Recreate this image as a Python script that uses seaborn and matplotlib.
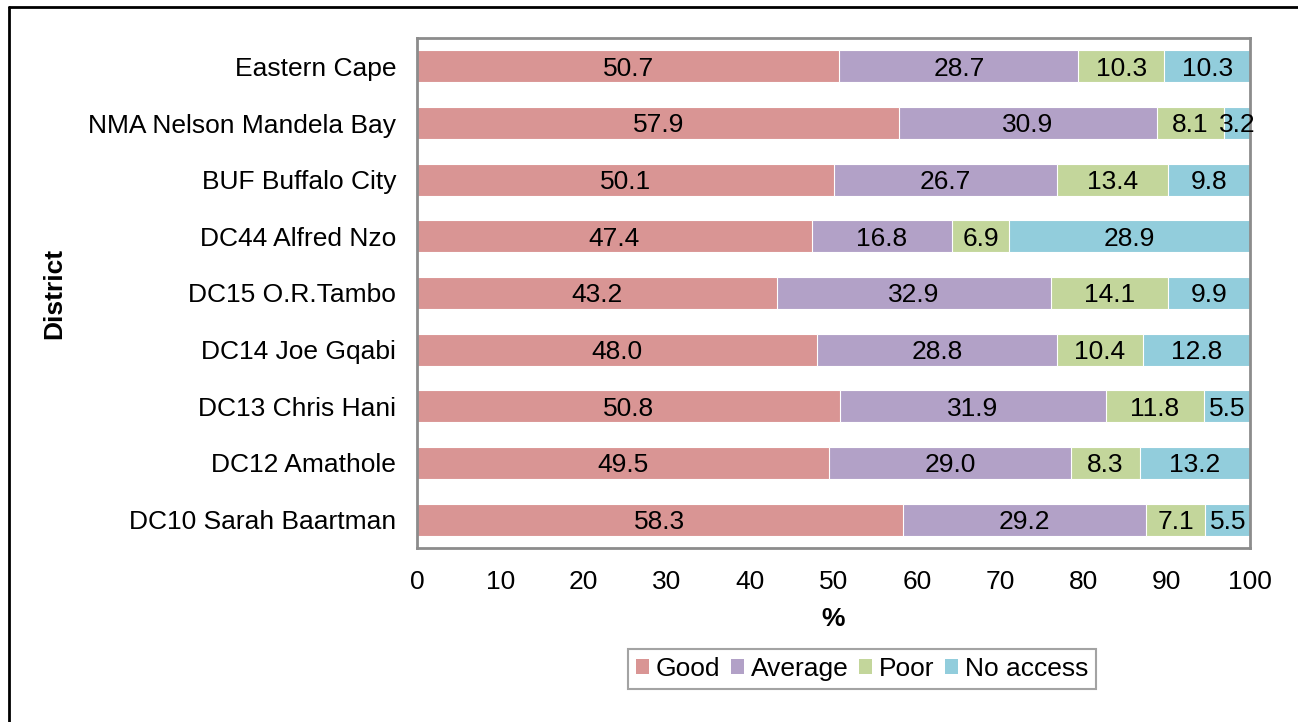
import numpy as np
import pandas as pd
import matplotlib
matplotlib.use("Agg")
import matplotlib.pyplot as plt
import seaborn as sns
from matplotlib.lines import Line2D
from matplotlib.patches import Patch

# dados
districts = ["Eastern Cape", "NMA Nelson Mandela Bay", "BUF Buffalo City",
             "DC44 Alfred Nzo", "DC15 O.R.Tambo", "DC14 Joe Gqabi",
             "DC13 Chris Hani", "DC12 Amathole", "DC10 Sarah Baartman"]
good = [50.7, 57.9, 50.1, 47.4, 43.2, 48.0, 50.8, 49.5, 58.3]
average = [28.7, 30.9, 26.7, 16.8, 32.9, 28.8, 31.9, 29.0, 29.2]
poor = [10.3, 8.1, 13.4, 6.9, 14.1, 10.4, 11.8, 8.3, 7.1]
no_access = [10.3, 3.2, 9.8, 28.9, 9.9, 12.8, 5.5, 13.2, 5.5]

series = ["Good", "Average", "Poor", "No access"]
colors = ["#D99594", "#B2A1C7", "#C3D69B", "#92CDDC"]

df = pd.DataFrame({"District": districts, "Good": good, "Average": average,
                   "Poor": poor, "No access": no_access})

sns.set_style("white")
plt.rcParams["font.family"] = ["Liberation Sans", "DejaVu Sans"]
plt.rcParams["text.color"] = "black"
plt.rcParams["xtick.color"] = "black"
plt.rcParams["ytick.color"] = "black"
plt.rcParams["axes.labelcolor"] = "black"
fs = 19

fig = plt.figure(figsize=(12.98, 7.22), dpi=100)
ax = fig.add_axes([417 / 1298, 1 - 548 / 722, (1250 - 417) / 1298, (548 - 38) / 722])

# barras empilhadas: desenhar os totais acumulados do maior para o menor
cum = df[series].cumsum(axis=1)
for i in range(len(series) - 1, -1, -1):
    sns.barplot(x=cum[series[i]], y=df["District"], color=colors[i], orient="h",
                width=0.57, ax=ax, edgecolor="white", linewidth=0.8,
                saturation=1)

# rótulos dos valores
for r in range(len(districts)):
    left = 0
    for s in series:
        v = df.loc[r, s]
        ax.text(left + v / 2, r, f"{v:.1f}", ha="center", va="center_baseline",
                fontsize=fs, color="black")
        left += v

ax.set_xlim(0, 100)
ax.set_ylim(len(districts) - 0.5, -0.5)
ax.set_xticks(range(0, 101, 10))
ax.tick_params(axis="both", length=0, labelsize=fs)
ax.tick_params(axis="y", pad=15)
ax.tick_params(axis="x", pad=16)
ax.set_xlabel("%", fontsize=fs, fontweight="bold", labelpad=9)
ax.set_ylabel("District", fontsize=fs, fontweight="bold", labelpad=16)
for sp in ax.spines.values():
    sp.set_color("#8c8c8c")
    sp.set_linewidth(2)

handles = [Patch(facecolor=c, edgecolor="none") for c in colors]
leg = fig.legend(handles, series, loc="center", bbox_to_anchor=(862 / 1298, 1 - 669 / 722),
                 ncol=4, fontsize=fs, frameon=True, fancybox=False,
                 handlelength=0.5, handleheight=0.5, handletextpad=0.25,
                 columnspacing=0.4, borderpad=0.3, edgecolor="#8c8c8c")
leg.get_frame().set_linewidth(1.5)

# moldura exterior
fig.add_artist(Line2D([9 / 1298, 1], [1 - 7 / 722, 1 - 7 / 722], color="black", lw=2,
                      transform=fig.transFigure))
fig.add_artist(Line2D([9 / 1298, 9 / 1298], [0, 1 - 7 / 722], color="black", lw=2,
                      transform=fig.transFigure))

fig.savefig("out.png", dpi=100)
